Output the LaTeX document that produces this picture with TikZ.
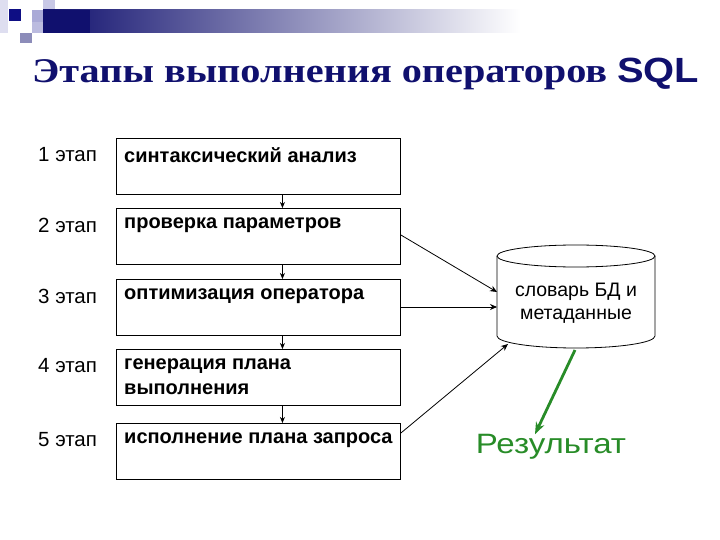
\documentclass[tikz,border=0pt]{standalone}
\usepackage{fontspec}
\setmainfont{Liberation Sans}
\newfontfamily\titlefont{Liberation Serif}
\usetikzlibrary{arrows.meta}
\definecolor{navy}{RGB}{16,16,110}
\definecolor{resgreen}{RGB}{40,140,40}
\definecolor{lav}{RGB}{170,170,215}
\definecolor{lav2}{RGB}{200,200,230}
\definecolor{gpur}{RGB}{140,140,185}
\begin{document}
\begin{tikzpicture}[x=1pt,y=-1pt,
  stagebox/.style={draw,line width=0.9pt,minimum width=284pt,minimum height=56pt,anchor=north west,inner sep=0pt},
  boxtext/.style={anchor=west,font=\fontsize{20}{25}\selectfont\bfseries,align=left,inner sep=0pt},
  stagelbl/.style={anchor=west,font=\fontsize{20.5}{23}\selectfont,inner sep=0pt},
  flow/.style={-{Stealth[length=6pt,width=5pt]},line width=0.8pt},
  link/.style={-{Stealth[length=7pt,width=6pt]},line width=0.8pt}]
\useasboundingbox (0,0) rectangle (720,540);
% header decoration
\fill[lav2!60] (0,0) rectangle (8,33);
\fill[lav2] (43,0) rectangle (55,10);
\fill[lav] (32,10) rectangle (55,22);
\fill[lav!80] (32,22) rectangle (43,33);
\fill[gpur] (20,33) rectangle (32,43);
\shade[left color=navy,right color=white] (43,10) rectangle (520,33);
\fill[navy] (43,10) rectangle (90,33);
\fill[navy!85!blue] (9,9) rectangle (21,21);
% title
\node[anchor=base west,inner sep=0pt,text=navy] (title) at (32,83)
  {\scalebox{1.22}[1.05]{\titlefont\bfseries\fontsize{33}{38}\selectfont Этапы выполнения операторов}};
\node[anchor=base west,inner sep=0pt,text=navy] (sql) at (617,83)
  {\scalebox{1.14}[1]{\bfseries\fontsize{35}{40}\selectfont SQL}};
% boxes
\node[stagebox] (b1) at (116,138) {};
\node[stagebox] (b2) at (116,208) {};
\node[stagebox] (b3) at (116,279) {};
\node[stagebox] (b4) at (116,349) {};
\node[stagebox] (b5) at (116,423) {};
\node[boxtext] (t1) at (124,155) {синтаксический анализ};
\node[boxtext] (t2) at (124,225) {проверка параметров};
\node[boxtext] (t3) at (124,296) {оптимизация оператора};
\node[boxtext] (t4) at (124,377) {генерация плана\\выполнения};
\node[boxtext] (t5) at (124,440) {исполнение плана запроса};
\node[stagelbl] (l1) at (38,155) {1 этап};
\node[stagelbl] (l2) at (38,225) {2 этап};
\node[stagelbl] (l3) at (38,296) {3 этап};
\node[stagelbl] (l4) at (38,366) {4 этап};
\node[stagelbl] (l5) at (38,440) {5 этап};
\foreach \a/\b in {b1/b2,b2/b3,b3/b4,b4/b5}
  \draw[flow] ([xshift=24pt]\a.south) -- ([xshift=24pt]\b.north);
% cylinder
\node[minimum width=158pt,minimum height=103pt,inner sep=0pt,align=center,font=\fontsize{19.5}{23}\selectfont] (db) at (576,303) {словарь БД и\\метаданные};
\draw[line width=0.8pt] (497,256) -- (497,336) arc[start angle=180,end angle=360,x radius=79pt,y radius=12pt] -- (655,256);
\draw[line width=0.8pt] (576,256) ellipse[x radius=79pt,y radius=11pt];
\coordinate (in2) at (497,292);
\coordinate (in3) at (497,307);
\coordinate (in5) at (508,344);
\draw[link] (b2.east |- 0,235) -- (in2);
\draw[link] (b3.east |- 0,307) -- (in3);
\draw[link] (b5.east |- 0,433) -- (in5);
% result
\node[text=resgreen,inner sep=0pt] (res) at (551,447) {\scalebox{1.18}[1]{\fontsize{28}{32}\selectfont Результат}};
\coordinate (gs) at (575,350);
\draw[-{Stealth[length=12pt,width=9pt]},resgreen,line width=2.8pt] (gs) -- (res.north -| 535,0) ;
\end{tikzpicture}
\end{document}
